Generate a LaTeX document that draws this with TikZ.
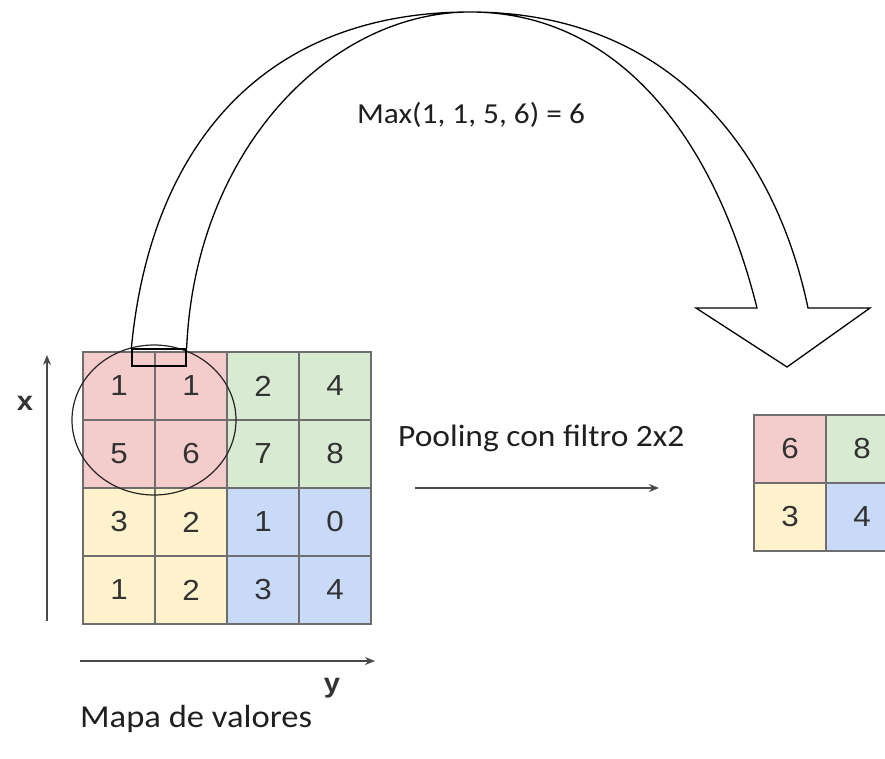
\documentclass[tikz,border=0pt]{standalone}
\usepackage{fontspec}
\usepackage{graphicx}
\setmainfont{Carlito}
\newfontfamily\digitfont{Liberation Sans}
\usetikzlibrary{arrows.meta,shapes.geometric}
\definecolor{pinkc}{HTML}{F4CCCC}
\definecolor{greenc}{HTML}{D9EAD3}
\definecolor{yellowc}{HTML}{FFF2CC}
\definecolor{bluec}{HTML}{C9DAF8}
\definecolor{gridc}{HTML}{6E6E6E}
\definecolor{digc}{HTML}{333333}
\definecolor{axisc}{HTML}{4A4A4A}
\newcommand{\wid}[1]{\scalebox{1.08}[1]{#1}}
\tikzset{
  cell/.style={draw=gridc, line width=1.1pt, minimum width=72pt, minimum height=68pt,
    inner sep=0pt, font=\digitfont\fontsize{29}{29}\selectfont, text=digc},
  axisarrow/.style={draw=axisc, line width=1.8pt, -{Stealth[length=10pt,width=8pt]}},
  bigarrow/.style={draw=black, line width=1.3pt, line join=miter},
  lbl/.style={inner sep=0pt, text=black!88},
}
\begin{document}
\begin{tikzpicture}[x=1pt,y=-1pt]
\useasboundingbox (0,0) rectangle (885,759);
\clip (0,0) rectangle (885,759);
% big grid
\node[cell, fill=pinkc]   (a11) at (119,386) {\wid{1}};
\node[cell, fill=pinkc]   (a12) at (191,386) {\wid{1}};
\node[cell, fill=greenc]  (a13) at (263,386) {\wid{2}};
\node[cell, fill=greenc]  (a14) at (335,386) {\wid{4}};
\node[cell, fill=pinkc]   (a21) at (119,454) {\wid{5}};
\node[cell, fill=pinkc]   (a22) at (191,454) {\wid{6}};
\node[cell, fill=greenc]  (a23) at (263,454) {\wid{7}};
\node[cell, fill=greenc]  (a24) at (335,454) {\wid{8}};
\node[cell, fill=yellowc] (a31) at (119,522) {\wid{3}};
\node[cell, fill=yellowc] (a32) at (191,522) {\wid{2}};
\node[cell, fill=bluec]   (a33) at (263,522) {\wid{1}};
\node[cell, fill=bluec]   (a34) at (335,522) {\wid{0}};
\node[cell, fill=yellowc] (a41) at (119,590) {\wid{1}};
\node[cell, fill=yellowc] (a42) at (191,590) {\wid{2}};
\node[cell, fill=bluec]   (a43) at (263,590) {\wid{3}};
\node[cell, fill=bluec]   (a44) at (335,590) {\wid{4}};
% small grid
\node[cell, fill=pinkc]   (b11) at (790,449) {\wid{6}};
\node[cell, fill=greenc]  (b12) at (862,449) {\wid{8}};
\node[cell, fill=yellowc] (b21) at (790,517) {\wid{3}};
\node[cell, fill=bluec]   (b22) at (862,517) {\wid{4}};
% window ellipse
\node[draw=black!85, line width=1.2pt, ellipse, minimum width=164pt, minimum height=150pt, inner sep=0pt] (win) at (154,420) {};
% base of big arrow
\node[draw=black, line width=1.3pt, minimum width=54pt, minimum height=17pt, inner sep=0pt] (base) at (159,357.5) {};
\coordinate (top) at (470,12);
\coordinate (ofoot) at (808,308);
\coordinate (ifoot) at (757,308);
\coordinate (ltip) at (696,308);
\coordinate (rtip) at (870,308);
\coordinate (tip) at (787,367);
\draw[bigarrow] (base.north west) .. controls (150,150) and (260,12) .. (top)
  .. controls (670,12) and (775,150) .. (ofoot) -- (rtip) -- (tip) -- (ltip) -- (ifoot)
  .. controls (715,140) and (620,12) .. (top)
  .. controls (330,12) and (195,150) .. (base.north east);
% axes
\coordinate (vx0) at (47,621);
\coordinate (vx1) at (47,355);
\coordinate (hy0) at (80,661);
\coordinate (hy1) at (375,661);
\draw[axisarrow] (vx0) -- (vx1);
\draw[axisarrow] (hy0) -- (hy1);
\node[lbl, font=\digitfont\bfseries\fontsize{27}{27}\selectfont, text=digc] (xl) at (25,403) {\wid{x}};
\node[lbl, font=\digitfont\bfseries\fontsize{27}{27}\selectfont, text=digc] (yl) at (332,688) {\wid{y}};
% pooling arrow
\coordinate (p0) at (415,488);
\coordinate (p1) at (659,488);
\draw[axisarrow] (p0) -- (p1);
\node[lbl, anchor=base west, font=\fontsize{31}{31}\selectfont] (pool) at (398,446) {\wid{Pooling con filtro 2x2}};
\node[lbl, anchor=base west, font=\fontsize{32}{32}\selectfont] (mapa) at (80,727) {\wid{Mapa de valores}};
\node[lbl, font=\fontsize{29}{29}\selectfont] (maxl) at (471,115) {\wid{Max(1, 1, 5, 6) = 6}};
\end{tikzpicture}
\end{document}
